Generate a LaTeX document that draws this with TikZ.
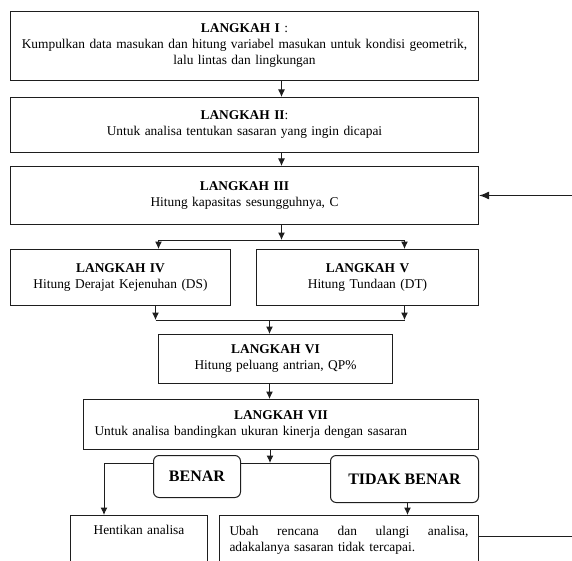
\documentclass[tikz,border=0pt]{standalone}
\usepackage{fontspec}
\setmainfont{Liberation Serif}
\usetikzlibrary{positioning,arrows.meta}
\definecolor{LineGray}{RGB}{30,30,30}

\begin{document}
\begin{tikzpicture}[
    x=1pt, y=-1pt,
    font=\fontsize{13.4}{16}\selectfont,
    stepbox/.style={
        rectangle, draw=LineGray, line width=1pt, fill=white,
        align=center, inner xsep=4pt, inner ysep=0pt
    },
    answer/.style={
        rectangle, rounded corners=2mm, draw=LineGray, line width=1pt, fill=white,
        font=\fontsize{16}{18}\selectfont\bfseries, inner sep=0pt
    },
    arrow/.style={-{Latex[length=7.5pt,width=7pt]}, line width=1pt, LineGray},
    bigarrow/.style={-{Latex[length=10pt,width=8pt]}, line width=1.3pt, LineGray},
    line/.style={line width=1pt, LineGray}
]
\clip (0,0) rectangle (572,561);

\node[stepbox, anchor=north west, minimum width=468pt, minimum height=69pt, text width=460pt] (langkahI) at (10,11) {\textbf{LANGKAH I} :\\
Kumpulkan data masukan dan hitung variabel masukan untuk kondisi geometrik,\\ lalu lintas dan lingkungan};

\node[stepbox, below=16pt of langkahI, minimum width=468pt, minimum height=55pt, text width=460pt] (langkahII) {\textbf{LANGKAH II}:\\
Untuk analisa tentukan sasaran yang ingin dicapai};

\node[stepbox, below=13pt of langkahII, minimum width=468pt, minimum height=58pt, text width=460pt] (langkahIII) {\textbf{LANGKAH III}\\
Hitung kapasitas sesungguhnya, C};

\node[stepbox, anchor=north west, minimum width=220pt, minimum height=56pt, text width=212pt] (langkahIV) at (10,249) {\textbf{LANGKAH IV}\\
Hitung Derajat Kejenuhan (DS)};

\node[stepbox, anchor=north west, minimum width=222pt, minimum height=56pt, text width=214pt] (langkahV) at (256,249) {\textbf{LANGKAH V}\\
Hitung Tundaan (DT)};

\node[stepbox, anchor=north west, minimum width=234pt, minimum height=49pt, text width=226pt] (langkahVI) at (158,334) {\textbf{LANGKAH VI}\\
Hitung peluang antrian, QP\%};

\node[stepbox, anchor=north west, minimum width=395pt, minimum height=50pt, text width=373pt, inner xsep=11pt, align=left] (langkahVII) at (83,399) {\makebox[373pt]{\textbf{LANGKAH VII}}\\
Untuk analisa bandingkan ukuran kinerja dengan sasaran};

\node[answer, anchor=north west, minimum width=148pt, minimum height=47pt] (tidak) at (330,455) {TIDAK BENAR};

\node[stepbox, anchor=north west, minimum width=137pt, text width=129pt, inner ysep=10pt, text depth=60pt] (hentikan) at (70,515) {Hentikan analisa};

\node[stepbox, anchor=north west, minimum width=259pt, text width=239pt, inner xsep=10pt, inner ysep=11pt, text depth=60pt, align=left] (ubah) at (219,515) {Ubah\hfill rencana\hfill dan\hfill ulangi\hfill analisa,\\
adakalanya sasaran tidak tercapai.};

% top part
\draw[arrow] ([xshift=37pt]langkahI.south) -- ([xshift=37pt]langkahII.north);
\draw[arrow] ([xshift=37pt]langkahII.south) -- ([xshift=37pt]langkahIII.north);

% split to IV and V
\coordinate (split) at ([xshift=37pt,yshift=-15pt]langkahIII.south);
\coordinate (ivin) at ([xshift=38pt]langkahIV.north);
\coordinate (vin) at ([xshift=37pt]langkahV.north);
\draw[arrow] ([xshift=37pt]langkahIII.south) -- (split);
\draw[line] (split -| ivin) -- (split -| vin);
\draw[arrow] (split -| ivin) -- (ivin);
\draw[arrow] (split -| vin) -- (vin);

% merge into VI
\coordinate (merge) at ([xshift=-6pt,yshift=14pt]langkahVI.north);
\coordinate (ivout) at ([xshift=35pt]langkahIV.south);
\coordinate (vout) at ([xshift=37pt]langkahV.south);
\draw[arrow] (ivout) -- (ivout |- merge);
\draw[arrow] (vout) -- (vout |- merge);
\draw[line] (ivout |- merge) -- (vout |- merge);
\draw[arrow] (merge) -- (merge |- langkahVI.north);

\coordinate (vidown) at ([xshift=-6pt]langkahVI.south);
\draw[arrow] (vidown) -- (vidown |- langkahVII.north);

% decision
\coordinate (decide) at ([xshift=-11pt,yshift=-13pt]langkahVII.south);
\coordinate (hentikanin) at ([xshift=-35pt]hentikan.north);
\draw[arrow] ([xshift=-11pt]langkahVII.south) -- (decide);
\draw[arrow] (tidak.west |- decide) -- (hentikanin |- decide) -- (hentikanin);

\node[answer, anchor=north west, minimum width=87pt, minimum height=42pt] (benar) at (153,455) {BENAR};

\coordinate (tidakout) at ([xshift=3pt]tidak.south);
\draw[arrow] (tidakout) -- (tidakout |- ubah.north);

% back to III
\coordinate (loopout) at ([xshift=100pt,yshift=-21pt]ubah.north east);
\draw[line] (loopout -| ubah.east) -- (loopout);
\coordinate (loopin) at ([xshift=100pt]langkahIII.east);
\draw[bigarrow] (loopin) -- (langkahIII.east);

\end{tikzpicture}
\end{document}
